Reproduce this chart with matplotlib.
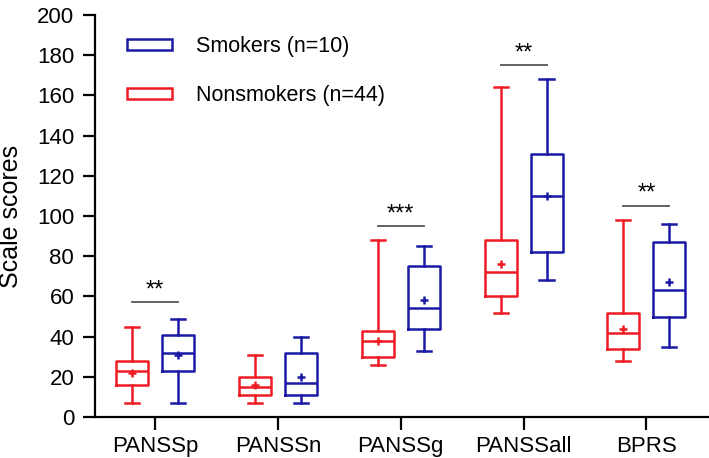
import matplotlib
matplotlib.use("Agg")
import matplotlib.pyplot as plt
from matplotlib.patches import Patch

plt.rcParams['font.family'] = ['Liberation Sans', 'DejaVu Sans']

categories = ["PANSSp", "PANSSn", "PANSSg", "PANSSall", "BPRS"]

# Nonsmokers (red): whislo, q1, med, q3, whishi, mean
non_lo   = [7, 7, 26, 52, 28]
non_q1   = [16, 11, 30, 60, 34]
non_med  = [23, 15, 38, 72, 42]
non_q3   = [28, 20, 43, 88, 52]
non_hi   = [45, 31, 88, 164, 98]
non_mean = [22, 16, 38, 76, 44]

# Smokers (blue)
smk_lo   = [7, 7, 33, 68, 35]
smk_q1   = [23, 11, 44, 82, 50]
smk_med  = [32, 17, 54, 110, 63]
smk_q3   = [41, 32, 75, 131, 87]
smk_hi   = [49, 40, 85, 168, 96]
smk_mean = [31, 20, 58, 110, 67]

# significance annotations: category index, bar height, label
sig_idx = [0, 2, 3, 4]
sig_y = [57, 95, 175, 105]
sig_lbl = ["**", "***", "**", "**"]

RED = "#ee1c24"
BLUE = "#1a1aa6"

fig = plt.figure(figsize=(7.09, 4.58), dpi=100)
ax = fig.add_axes([0.134, 0.0895, 0.866, 0.8775])

off = 0.187
def stats(lo, q1, med, q3, hi, mean):
    return [dict(whislo=a, q1=b, med=c, q3=d, whishi=e, mean=f, fliers=[])
            for a, b, c, d, e, f in zip(lo, q1, med, q3, hi, mean)]

lw = 1.8
for st, col, sign in [(stats(non_lo, non_q1, non_med, non_q3, non_hi, non_mean), RED, -1),
                      (stats(smk_lo, smk_q1, smk_med, smk_q3, smk_hi, smk_mean), BLUE, 1)]:
    pos = [i + sign * off for i in range(len(categories))]
    ax.bxp(st, positions=pos, widths=0.26, showmeans=True, showfliers=False,
           capwidths=0.115,
           boxprops=dict(color=col, linewidth=lw),
           whiskerprops=dict(color=col, linewidth=lw),
           capprops=dict(color=col, linewidth=lw),
           medianprops=dict(color=col, linewidth=lw),
           meanprops=dict(marker="+", markeredgecolor=col, markersize=6, markeredgewidth=1.8))

for i, y, l in zip(sig_idx, sig_y, sig_lbl):
    ax.plot([i - off, i + off], [y, y], color="#555555", linewidth=1.3)
    ax.text(i, y + 0.5, l, ha="center", va="bottom", fontsize=17)

ax.set_xlim(-0.49, 4.51)
ax.set_ylim(0, 200)
ax.set_yticks(range(0, 201, 20))
ax.set_xticks(range(len(categories)))
ax.set_xticklabels(categories)
ax.tick_params(axis="both", labelsize=16, width=1.6, length=9, direction="out")
ax.tick_params(axis="y", pad=6)
ax.tick_params(axis="x", pad=5)
ax.spines["top"].set_visible(False)
ax.spines["right"].set_visible(False)
ax.spines["left"].set_linewidth(1.6)
ax.spines["bottom"].set_linewidth(1.6)
ax.set_ylabel("Scale scores", fontsize=18)
ax.yaxis.set_label_coords(-0.117, 0.5)

handles = [Patch(facecolor="white", edgecolor=BLUE, linewidth=1.8),
           Patch(facecolor="white", edgecolor=RED, linewidth=1.8)]
ax.legend(handles, ["Smokers (n=10)", "Nonsmokers (n=44)"], loc="upper left",
          bbox_to_anchor=(0.02, 0.995), frameon=False, fontsize=15.5,
          handlelength=2.1, handleheight=0.4, labelspacing=1.3, handletextpad=1.1)

fig.savefig("out.png", dpi=100)
